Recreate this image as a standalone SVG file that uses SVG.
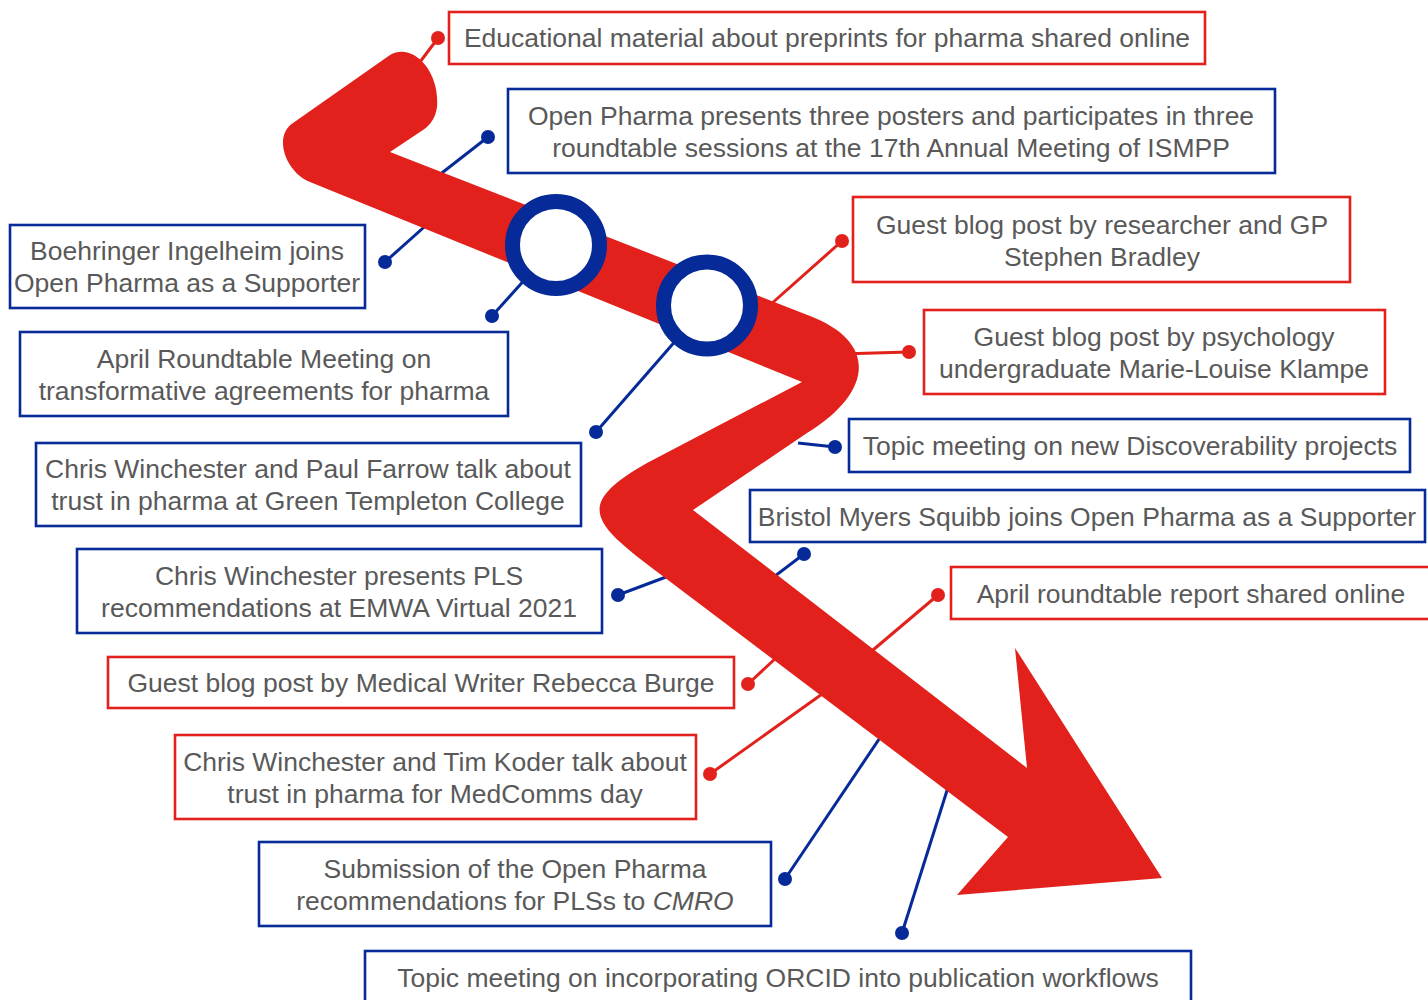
<svg xmlns="http://www.w3.org/2000/svg" width="1428" height="1000" viewBox="0 0 1428 1000">
<style>
.bx{fill:#fff;stroke-width:2.6}
.r .bx{stroke:#E2211C}
.b .bx{stroke:#062A98}
text{font-family:"Liberation Sans",Arial,sans-serif;font-size:26.5px;fill:#595959;text-anchor:middle}
.cr{stroke:#E2211C;stroke-width:3;fill:none}
.cb{stroke:#062A98;stroke-width:3;fill:none}
.dr{fill:#E2211C}
.db{fill:#062A98}
</style>
<rect width="1428" height="1000" fill="#fff"/>
<g id="connectors">
<line class="cr" x1="438" y1="38" x2="420" y2="62"/><circle class="dr" cx="438" cy="38" r="7"/>
<line class="cb" x1="488" y1="137" x2="420" y2="190"/><circle class="db" cx="488" cy="137" r="7"/>
<line class="cb" x1="385" y1="262" x2="432" y2="220"/><circle class="db" cx="385" cy="262" r="7"/>
<line class="cb" x1="492" y1="316" x2="528" y2="276"/><circle class="db" cx="492" cy="316" r="7"/>
<line class="cb" x1="596" y1="432" x2="678" y2="338"/><circle class="db" cx="596" cy="432" r="7"/>
<line class="cr" x1="842" y1="241" x2="770" y2="305"/><circle class="dr" cx="842" cy="241" r="7"/>
<line class="cr" x1="909" y1="352" x2="840" y2="354"/><circle class="dr" cx="909" cy="352" r="7"/>
<line class="cb" x1="835" y1="447" x2="798" y2="443"/><circle class="db" cx="835" cy="447" r="7"/>
<line class="cb" x1="804" y1="554" x2="750" y2="595"/><circle class="db" cx="804" cy="554" r="7"/>
<line class="cb" x1="618" y1="595" x2="690" y2="568"/><circle class="db" cx="618" cy="595" r="7"/>
<line class="cr" x1="938" y1="595" x2="860" y2="661"/><circle class="dr" cx="938" cy="595" r="7"/>
<line class="cr" x1="748" y1="684" x2="792" y2="643"/><circle class="dr" cx="748" cy="684" r="7"/>
<line class="cr" x1="710" y1="774" x2="832" y2="687"/><circle class="dr" cx="710" cy="774" r="7"/>
<line class="cb" x1="785" y1="879" x2="900" y2="708"/><circle class="db" cx="785" cy="879" r="7"/>
<line class="cb" x1="902" y1="933" x2="956" y2="762"/><circle class="db" cx="902" cy="933" r="7"/>
</g>
<g id="timeline">
<path fill="#E2211C" d="M390,55 C412,42 440,70 437,107 C436,116 431,125 423,130 L390,152 L810,316 C880,343 871,394 807,433 L693,510 L1027,768 L1015,648 L1162,878 L957,895 L1008,837 L660,574 C592,523 573,505 647,463 L802,382 L310,182 C287,173 272,137 293,123 Z"/>
<circle cx="556" cy="245" r="43.5" fill="#fff" stroke="#062A98" stroke-width="15"/>
<circle cx="707" cy="305.5" r="43.5" fill="#fff" stroke="#062A98" stroke-width="15"/>
</g>
<g id="n1" class="r"><rect class="bx" x="449" y="12" width="756" height="52"/><text x="827" y="46.5">Educational material about preprints for pharma shared online</text></g>
<g id="n2" class="b"><rect class="bx" x="508" y="89" width="767" height="84"/><text x="891" y="124.5">Open Pharma presents three posters and participates in three</text><text x="891" y="156.5">roundtable sessions at the 17th Annual Meeting of ISMPP</text></g>
<g id="n3" class="r"><rect class="bx" x="853" y="197" width="497" height="85"/><text x="1102" y="233.5">Guest blog post by researcher and GP</text><text x="1102" y="265.5">Stephen Bradley</text></g>
<g id="n4" class="r"><rect class="bx" x="924" y="310" width="461" height="84"/><text x="1154" y="345.5">Guest blog post by psychology</text><text x="1154" y="377.5">undergraduate Marie-Louise Klampe</text></g>
<g id="n5" class="b"><rect class="bx" x="849" y="419" width="561" height="53"/><text x="1130" y="454.5">Topic meeting on new Discoverability projects</text></g>
<g id="n6" class="b"><rect class="bx" x="750" y="490" width="675" height="52"/><text x="1087" y="525.5">Bristol Myers Squibb joins Open Pharma as a Supporter</text></g>
<g id="n7" class="r"><rect class="bx" x="951" y="567" width="490" height="52"/><text x="1191" y="602.5">April roundtable report shared online</text></g>
<g id="n8" class="b"><rect class="bx" x="365" y="951" width="826" height="60"/><text x="778" y="986.5">Topic meeting on incorporating ORCID into publication workflows</text></g>
<g id="n9" class="b"><rect class="bx" x="10" y="225" width="355" height="83"/><text x="187" y="259.5">Boehringer Ingelheim joins</text><text x="187" y="291.5">Open Pharma as a Supporter</text></g>
<g id="n10" class="b"><rect class="bx" x="20" y="332" width="488" height="84"/><text x="264" y="367.5">April Roundtable Meeting on</text><text x="264" y="399.5">transformative agreements for pharma</text></g>
<g id="n11" class="b"><rect class="bx" x="36" y="443" width="545" height="83"/><text x="308" y="477.5">Chris Winchester and Paul Farrow talk about</text><text x="308" y="509.5">trust in pharma at Green Templeton College</text></g>
<g id="n12" class="b"><rect class="bx" x="77" y="549" width="525" height="84"/><text x="339" y="584.5">Chris Winchester presents PLS</text><text x="339" y="616.5">recommendations at EMWA Virtual 2021</text></g>
<g id="n13" class="r"><rect class="bx" x="108" y="657" width="626" height="51"/><text x="421" y="691.5">Guest blog post by Medical Writer Rebecca Burge</text></g>
<g id="n14" class="r"><rect class="bx" x="175" y="735" width="521" height="84"/><text x="435" y="770.5">Chris Winchester and Tim Koder talk about</text><text x="435" y="802.5">trust in pharma for MedComms day</text></g>
<g id="n15" class="b"><rect class="bx" x="259" y="842" width="512" height="84"/><text x="515" y="877.5">Submission of the Open Pharma</text><text x="515" y="909.5">recommendations for PLSs to <tspan font-style="italic">CMRO</tspan></text></g>
</svg>
